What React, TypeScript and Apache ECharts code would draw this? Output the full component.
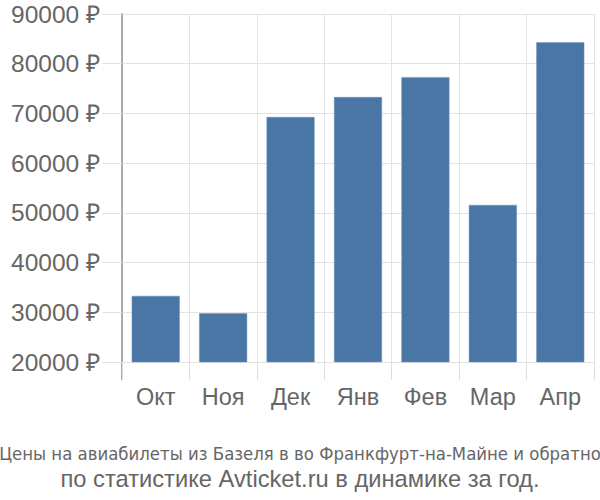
import React, { useEffect, useRef } from "react";
import * as echarts from "echarts";

const categories = ["Окт", "Ноя", "Дек", "Янв", "Фев", "Мар", "Апр"];
const prices = [33300, 29800, 69300, 73300, 77300, 51600, 84300];
const yTicks = [20000, 30000, 40000, 50000, 60000, 70000, 80000, 90000];
const titleLine1 = "Цены на авиабилеты из Базеля в во Франкфурт-на-Майне и обратно";
const titleLine2 = "по статистике Avticket.ru в динамике за год.";

export default function App() {
  const ref = useRef<HTMLDivElement>(null);
  useEffect(() => {
    if (!ref.current) return;
    const chart = echarts.init(ref.current, null, { renderer: "svg" });
    chart.setOption({
      animation: false,
      grid: { left: 122, right: 6, top: 14, bottom: 138, containLabel: false },
      title: [
        {
          text: titleLine1,
          left: "center",
          top: 439,
          textStyle: {
            fontFamily: "Liberation Sans Narrow, DejaVu Sans Condensed, sans-serif",
            fontSize: 18.4,
            fontWeight: "normal",
            color: "#666",
          },
        },
        {
          text: titleLine2,
          left: "center",
          top: 462,
          textStyle: {
            fontFamily: "Liberation Sans, Arial, sans-serif",
            fontSize: 23.7,
            fontWeight: "normal",
            color: "#666",
          },
        },
      ],
      xAxis: {
        type: "category",
        data: categories,
        axisLine: { show: false },
        axisTick: { show: true, length: 18, lineStyle: { color: "#dddddd", width: 1 } },
        splitLine: { show: true, lineStyle: { color: "#e3e3e3", width: 1 } },
        axisLabel: {
          margin: 23,
          fontSize: 23.5,
          color: "#666",
          fontFamily: "Liberation Sans, Arial, sans-serif",
        },
      },
      yAxis: {
        type: "value",
        min: yTicks[0],
        max: yTicks[yTicks.length - 1],
        interval: 10000,
        axisLine: { show: true, lineStyle: { color: "#aaaaaa", width: 2 } },
        axisTick: { show: true, length: 20, lineStyle: { color: "#e3e3e3", width: 1 } },
        splitLine: { show: true, lineStyle: { color: "#e3e3e3", width: 1 } },
        axisLabel: {
          margin: 22,
          fontSize: 24.5,
          color: "#666",
          fontFamily: "Liberation Sans, Arial, sans-serif",
          formatter: (v: number) => `${v} ₽`,
        },
      },
      series: [
        {
          type: "bar",
          data: prices,
          barWidth: 48,
          itemStyle: { color: "#4a76a6", borderColor: "#6f93bb", borderWidth: 0.5 },
        },
      ],
      graphic: [
        {
          type: "line",
          shape: { x1: 122, y1: 362, x2: 122, y2: 380 },
          style: { stroke: "#aaaaaa", lineWidth: 2 },
        },
      ],
    });
    return () => chart.dispose();
  }, []);
  return <div ref={ref} style={{ width: 600, height: 500, position: "absolute", left: 0, top: 0 }} />;
}
